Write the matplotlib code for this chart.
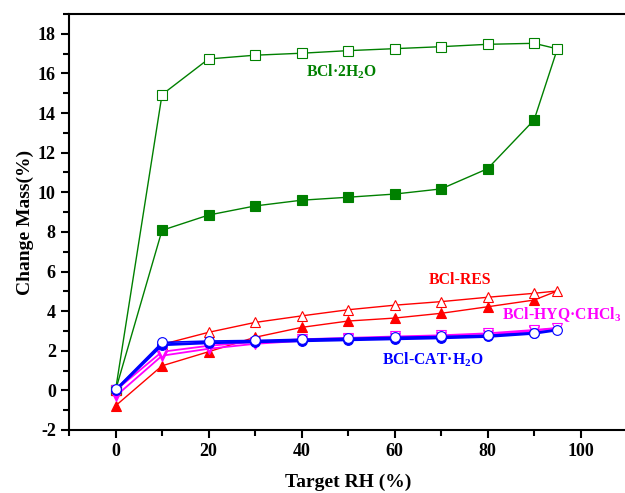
import numpy as np
import matplotlib.pyplot as plt
from matplotlib.ticker import MultipleLocator

plt.rcParams['font.family'] = ['Liberation Serif', 'DejaVu Serif']
plt.rcParams['font.weight'] = 'bold'
plt.rcParams['mathtext.fontset'] = 'custom'
plt.rcParams['mathtext.rm'] = 'Liberation Serif:bold'
plt.rcParams['mathtext.bf'] = 'Liberation Serif:bold'
plt.rcParams['mathtext.default'] = 'bf'
plt.rcParams['axes.unicode_minus'] = False

# humedad relativa
rh = [0, 10, 20, 30, 40, 50, 60, 70, 80, 90, 95]
rh_sorc = [0, 10, 20, 30, 40, 50, 60, 70, 80, 90]

# BCl.2H2O
h2o_sorc = [0, 8.08, 8.85, 9.31, 9.60, 9.75, 9.91, 10.17, 11.19, 13.65]
h2o_desorc = [0, 14.93, 16.73, 16.92, 17.02, 17.15, 17.25, 17.35, 17.47, 17.52, 17.24]

# BCl-RES
res_sorc = [-0.78, 1.24, 1.95, 2.68, 3.18, 3.50, 3.65, 3.89, 4.22, 4.56]
res_desorc = [0, 2.32, 2.93, 3.43, 3.76, 4.07, 4.30, 4.48, 4.70, 4.90, 5.02]

# BCl-CAT.H2O
cat_sorc = [0, 2.30, 2.40, 2.45, 2.50, 2.55, 2.60, 2.65, 2.72, 2.88]
cat_desorc = [0.05, 2.42, 2.49, 2.52, 2.58, 2.63, 2.68, 2.72, 2.78, 2.91, 3.05]

# BCl-HYQ.CHCl3
hyq_sorc = [-0.30, 1.75, 2.10, 2.35, 2.50, 2.60, 2.65, 2.70, 2.80, 3.00]
hyq_desorc = [0, 1.95, 2.25, 2.45, 2.58, 2.65, 2.72, 2.78, 2.88, 3.05, 3.15]

fig = plt.figure(figsize=(6.25, 4.93), dpi=100)
ax = fig.add_axes([0.1104, 0.1278, 0.893, 0.8438])

series = [
    (h2o_sorc, h2o_desorc, '#008000', 's', 1.0, 1.0),
    (res_sorc, res_desorc, 'red', '^', 1.0, 1.0),
    (hyq_sorc, hyq_desorc, 'magenta', 'v', 1.3, 1.3),
    (cat_sorc, cat_desorc, 'blue', 'o', 2.0, 1.2),
]

for sorc, desorc, c, m, lw1, lw2 in series:
    # curva de sorcion, se cierra en el ultimo punto de desorcion
    ax.plot(rh_sorc + [rh[-1]], sorc + [desorc[-1]], color=c, lw=lw1, marker=m,
            ms=7, mfc=c, mec=c, mew=0.8, markevery=list(range(len(sorc))))
    ax.plot(rh, desorc, color=c, lw=lw2, marker=m, ms=7, mfc='white', mec=c, mew=0.8)

# textos
ax.text(40.9, 16.1, 'BCl·2H$_2$O', color='#008000', fontsize=11.3, va='center')
ax.text(67.3, 5.57, 'BCl-RES', color='red', fontsize=11.3, va='center')
ax.text(83.2, 3.85, 'BCl-HYQ·CHCl$_3$', color='magenta', fontsize=11.3, va='center')
ax.text(57.2, 1.53, 'BCl-CAT·H$_2$O', color='blue', fontsize=11.3, va='center')

ax.set_xlim(-10, 110)
ax.set_ylim(-2, 19)
ax.xaxis.set_major_locator(MultipleLocator(20))
ax.xaxis.set_minor_locator(MultipleLocator(10))
ax.yaxis.set_major_locator(MultipleLocator(2))
ax.yaxis.set_minor_locator(MultipleLocator(1))
ax.tick_params(which='both', direction='out', top=False, right=False, width=1.5,
               labelsize=13)
ax.tick_params(which='major', length=6)
ax.tick_params(which='minor', length=4)
ax.spines['right'].set_visible(False)
for s in ['left', 'bottom', 'top']:
    ax.spines[s].set_linewidth(1.5)
ax.set_xticks([0, 20, 40, 60, 80, 100])
for lab in ax.get_xticklabels() + ax.get_yticklabels():
    lab.set_fontweight('bold')

ax.set_xlabel('Target RH (%)', fontsize=14, fontweight='bold', labelpad=10)
ax.set_ylabel('Change Mass(%)', fontsize=14, fontweight='bold', labelpad=3)

plt.savefig('out.png', dpi=100)
